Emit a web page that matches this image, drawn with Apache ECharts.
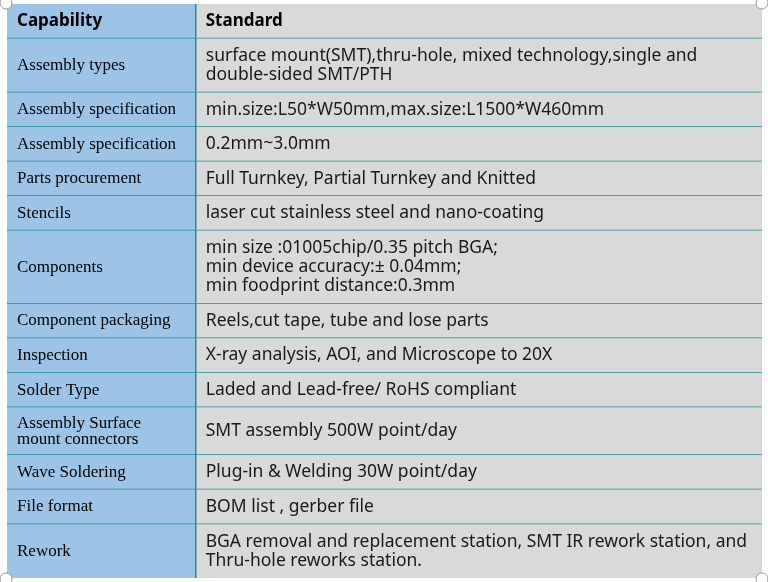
<!DOCTYPE html>
<html>
<head>
<meta charset="utf-8">
<script src="https://cdn.jsdelivr.net/npm/echarts@6/dist/echarts.min.js"></script>
<style>
html,body{margin:0;padding:0;background:#ffffff;}
#c{width:768px;height:582px;}
</style>
</head>
<body>
<div id="c"></div>
<script>
var headers = ['Capability', 'Standard'];
var capabilities = [
  'Assembly types',
  'Assembly specification',
  'Assembly specification',
  'Parts procurement',
  'Stencils',
  'Components',
  'Component packaging',
  'Inspection',
  'Solder Type',
  'Assembly Surface\nmount connectors',
  'Wave Soldering',
  'File format',
  'Rework'
];
var standards = [
  'surface mount(SMT),thru-hole, mixed technology,single and\ndouble-sided SMT/PTH',
  'min.size:L50*W50mm,max.size:L1500*W460mm',
  '0.2mm~3.0mm',
  'Full Turnkey, Partial Turnkey and Knitted',
  'laser cut stainless steel and nano-coating',
  'min size :01005chip/0.35 pitch BGA;\nmin device accuracy:\u00b1 0.04mm;\nmin foodprint distance:0.3mm',
  'Reels,cut tape, tube and lose parts',
  'X-ray analysis, AOI, and Microscope to 20X',
  'Laded and Lead-free/ RoHS compliant',
  'SMT assembly 500W point/day',
  'Plug-in & Welding 30W point/day',
  'BOM list , gerber file',
  'BGA removal and replacement station, SMT IR rework station, and\nThru-hole reworks station.'
];

// build rows (header + body)
var rows = [{left: headers[0], right: headers[1], header: true}];
for (var i = 0; i < capabilities.length; i++) {
  rows.push({left: capabilities[i], right: standards[i], header: false});
}
function nLines(s) { return s.split('\n').length; }
function rowHeight(r) {
  return Math.max(15 + 19 * nLines(r.right), 15 + 16 * nLines(r.left), 34);
}
var starts = [], ends = [], acc = 0;
rows.forEach(function (r) { starts.push(acc); acc += rowHeight(r); ends.push(acc); });
var total = acc;

var data = rows.map(function (r, i) { return [i, starts[i], ends[i]]; });

var BLUE = '#9dc3e6', GREY = '#d9d9d9', LINE = '#1f8f96';

function renderItem(params, api) {
  var i = api.value(0);
  var r = rows[i];
  var p0 = api.coord([0, api.value(1)]);
  var p1 = api.coord([4, api.value(2)]);
  var pm = api.coord([1, api.value(1)]);
  var x0 = p0[0], y0 = p0[1], x1 = p1[0], y1 = p1[1], xm = pm[0];
  var yc = (y0 + y1) / 2;
  var children = [
    {type: 'rect', shape: {x: x0, y: y0, width: xm - x0, height: y1 - y0}, style: {fill: BLUE}},
    {type: 'rect', shape: {x: xm, y: y0, width: x1 - xm, height: y1 - y0}, style: {fill: GREY}},
    {type: 'line', shape: {x1: xm, y1: y0, x2: xm, y2: y1}, style: {stroke: LINE, lineWidth: 1.5}},
    {type: 'text', style: {
      x: x0 + 10, y: yc, text: r.left,
      font: r.header ? 'bold 17px "Noto Sans"' : '17px "Liberation Serif"',
      fill: '#000', verticalAlign: 'middle', align: 'left', lineHeight: 16
    }},
    {type: 'text', style: {
      x: xm + 10, y: yc, text: r.right,
      font: r.header ? 'bold 17px "Noto Sans"' : '17.5px "Noto Sans"',
      fill: r.header ? '#000' : '#1a1a1a', verticalAlign: 'middle', align: 'left', lineHeight: 19
    }}
  ];
  if (i < rows.length - 1) {
    children.push({type: 'line', shape: {x1: x0, y1: y1, x2: x1, y2: y1}, style: {stroke: LINE, lineWidth: 1.5}});
  }
  return {type: 'group', children: children};
}

var chart = echarts.init(document.getElementById('c'), null, {renderer: 'canvas'});
var handles = [[6, 3], [762, 3], [6, 579], [762, 579]].map(function (p) {
  return {type: 'circle', shape: {cx: p[0], cy: p[1], r: 6}, style: {fill: '#fff', stroke: '#9a9a9a', lineWidth: 1}, z: 100};
});
chart.setOption({
  animation: false,
  backgroundColor: '#ffffff',
  grid: {left: 7, right: 6, top: 4, bottom: 4},
  xAxis: {type: 'value', min: 0, max: 4, show: false},
  yAxis: {type: 'value', min: 0, max: total, inverse: true, show: false},
  series: [{type: 'custom', renderItem: renderItem, data: data, clip: false,
    encode: {x: -1, y: [1, 2]}}],
  graphic: handles
});
</script>
</body>
</html>
